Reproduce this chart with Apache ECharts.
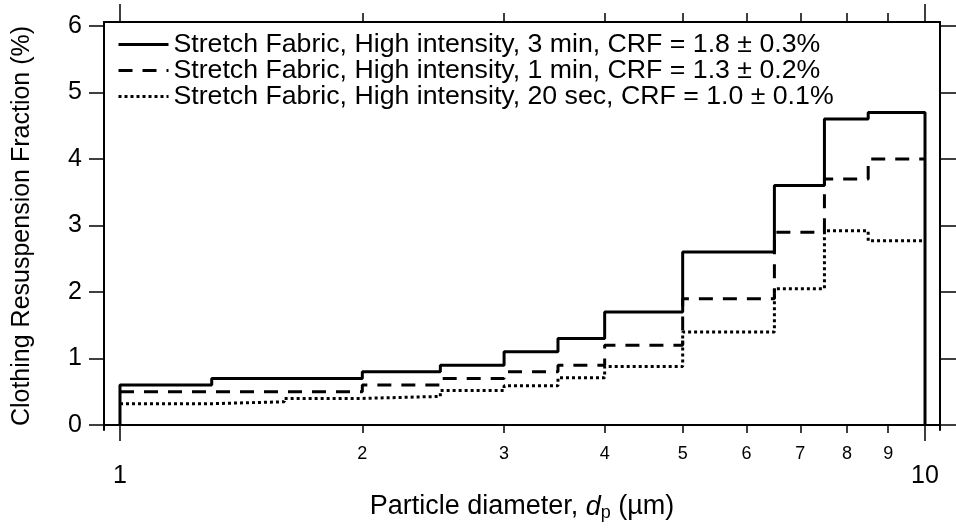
<!DOCTYPE html>
<html>
<head>
<meta charset="utf-8">
<script src="https://cdn.jsdelivr.net/npm/echarts@6/dist/echarts.min.js"></script>
<style>html,body{margin:0;padding:0;background:#fff;}#c{width:956px;height:529px;}</style>
</head>
<body>
<div id="c"></div>
<script>
// Bin edges (µm)
const binEdges = [1, 1.3, 1.6, 2, 2.5, 3, 3.5, 4, 5, 6.5, 7.5, 8.5, 10];
// Values per bin (%)
const solid3min = [0.60, 0.70, 0.70, 0.80, 0.90, 1.10, 1.30, 1.70, 2.60, 3.60, 4.60, 4.70];
const dashed1min = [0.50, 0.50, 0.50, 0.60, 0.70, 0.80, 0.90, 1.20, 1.90, 2.90, 3.70, 4.00];
const dotted20sec = [0.32, 0.35, 0.40, 0.43, 0.52, 0.59, 0.71, 0.88, 1.40, 2.05, 2.92, 2.77];
const seriesNames = [
  'Stretch Fabric, High intensity, 3 min, CRF = 1.8 ± 0.3%',
  'Stretch Fabric, High intensity, 1 min, CRF = 1.3 ± 0.2%',
  'Stretch Fabric, High intensity, 20 sec, CRF = 1.0 ± 0.1%'
];
const xMinorTicks = [2, 3, 4, 5, 6, 7, 8, 9];
const xMajorTicks = [1, 10];
const yTicks = [0, 1, 2, 3, 4, 5, 6];

const X_MIN = 0.9553, X_MAX = 10.438;
const Y_MIN = -0.075, Y_MAX = 6.06;
const FONT = 'Liberation Sans, Arial, sans-serif';

function stepData(vals, dropEnds) {
  const d = [];
  if (dropEnds) d.push([binEdges[0], 0]);
  vals.forEach((v, i) => d.push([binEdges[i], v]));
  d.push([binEdges[binEdges.length - 1], vals[vals.length - 1]]);
  if (dropEnds) d.push([binEdges[binEdges.length - 1], 0]);
  return d;
}

const chart = echarts.init(document.getElementById('c'), null, {renderer: 'canvas'});
const logBase = {type: 'log', logBase: 10, min: X_MIN, max: X_MAX, splitLine: {show: false}, minorTick: {show: false}};
const axisLineStyle = {show: true, lineStyle: {color: '#000', width: 2}};

chart.setOption({
  animation: false,
  backgroundColor: '#fff',
  grid: {left: 104, right: 16, top: 22, bottom: 99, show: false},
  legend: {
    orient: 'vertical', left: 112, top: 26, itemGap: -1, itemWidth: 50, itemHeight: 20,
    itemStyle: {color: 'rgba(0,0,0,0)', borderWidth: 0, opacity: 0},
    lineStyle: {width: 3},
    textStyle: {fontSize: 26.7, color: '#000', fontFamily: FONT},
    data: seriesNames
  },
  xAxis: [
    Object.assign({}, logBase, {
      position: 'bottom', axisLine: axisLineStyle,
      axisTick: {show: true, customValues: xMinorTicks, length: 8, lineStyle: {color: '#000', width: 1.5}},
      axisLabel: {show: true, customValues: xMinorTicks, fontSize: 18, color: '#000', fontFamily: FONT, margin: 15},
      name: '{n|Particle diameter, }{i|d}{s|p}{n| (µm)}',
      nameLocation: 'middle', nameGap: 62,
      nameTextStyle: {rich: {
        n: {fontSize: 27, color: '#000', fontFamily: FONT},
        i: {fontSize: 27, color: '#000', fontFamily: FONT, fontStyle: 'italic'},
        s: {fontSize: 18, color: '#000', fontFamily: FONT, padding: [12, 0, 0, 0]}
      }}
    }),
    Object.assign({}, logBase, {
      position: 'bottom', axisLine: {show: false},
      axisTick: {show: true, customValues: xMajorTicks, length: 16, lineStyle: {color: '#000', width: 1.5}},
      axisLabel: {show: true, customValues: xMajorTicks, fontSize: 25, color: '#000', fontFamily: FONT, margin: 34}
    }),
    Object.assign({}, logBase, {
      position: 'top', axisLine: axisLineStyle,
      axisTick: {show: true, customValues: xMinorTicks, length: 9, lineStyle: {color: '#000', width: 1.5}},
      axisLabel: {show: false}
    }),
    Object.assign({}, logBase, {
      position: 'top', axisLine: {show: false},
      axisTick: {show: true, customValues: xMajorTicks, length: 18, lineStyle: {color: '#000', width: 1.5}},
      axisLabel: {show: false}
    })
  ],
  yAxis: [
    {
      type: 'value', position: 'left', min: Y_MIN, max: Y_MAX,
      splitLine: {show: false}, axisLine: axisLineStyle,
      axisTick: {show: true, customValues: yTicks, length: 15, lineStyle: {color: '#000', width: 1.5}},
      axisLabel: {show: true, customValues: yTicks, fontSize: 25, color: '#000', fontFamily: FONT, margin: 22},
      name: 'Clothing Resuspension Fraction (%)', nameLocation: 'middle', nameGap: 69,
      nameTextStyle: {fontSize: 25, color: '#000', fontFamily: FONT}
    },
    {
      type: 'value', position: 'right', min: Y_MIN, max: Y_MAX,
      splitLine: {show: false}, axisLine: axisLineStyle,
      axisTick: {show: true, customValues: yTicks, length: 16, lineStyle: {color: '#000', width: 1.5}},
      axisLabel: {show: false}
    }
  ],
  series: [
    {name: seriesNames[0], type: 'line', step: 'end', symbol: 'none', xAxisIndex: 0, yAxisIndex: 0,
     data: stepData(solid3min, true), lineStyle: {color: '#000', width: 3, type: 'solid'}, itemStyle: {color: '#000'}, z: 3},
    {name: seriesNames[1], type: 'line', step: 'end', symbol: 'none', xAxisIndex: 0, yAxisIndex: 0,
     data: stepData(dashed1min, false), lineStyle: {color: '#000', width: 3, type: [14, 10]}, itemStyle: {color: '#000'}, z: 2},
    {name: seriesNames[2], type: 'line', step: 'end', symbol: 'none', xAxisIndex: 0, yAxisIndex: 0,
     data: stepData(dotted20sec, false), lineStyle: {color: '#000', width: 3, type: [3, 3]}, itemStyle: {color: '#000'}, z: 1}
  ]
});
</script>
</body>
</html>
